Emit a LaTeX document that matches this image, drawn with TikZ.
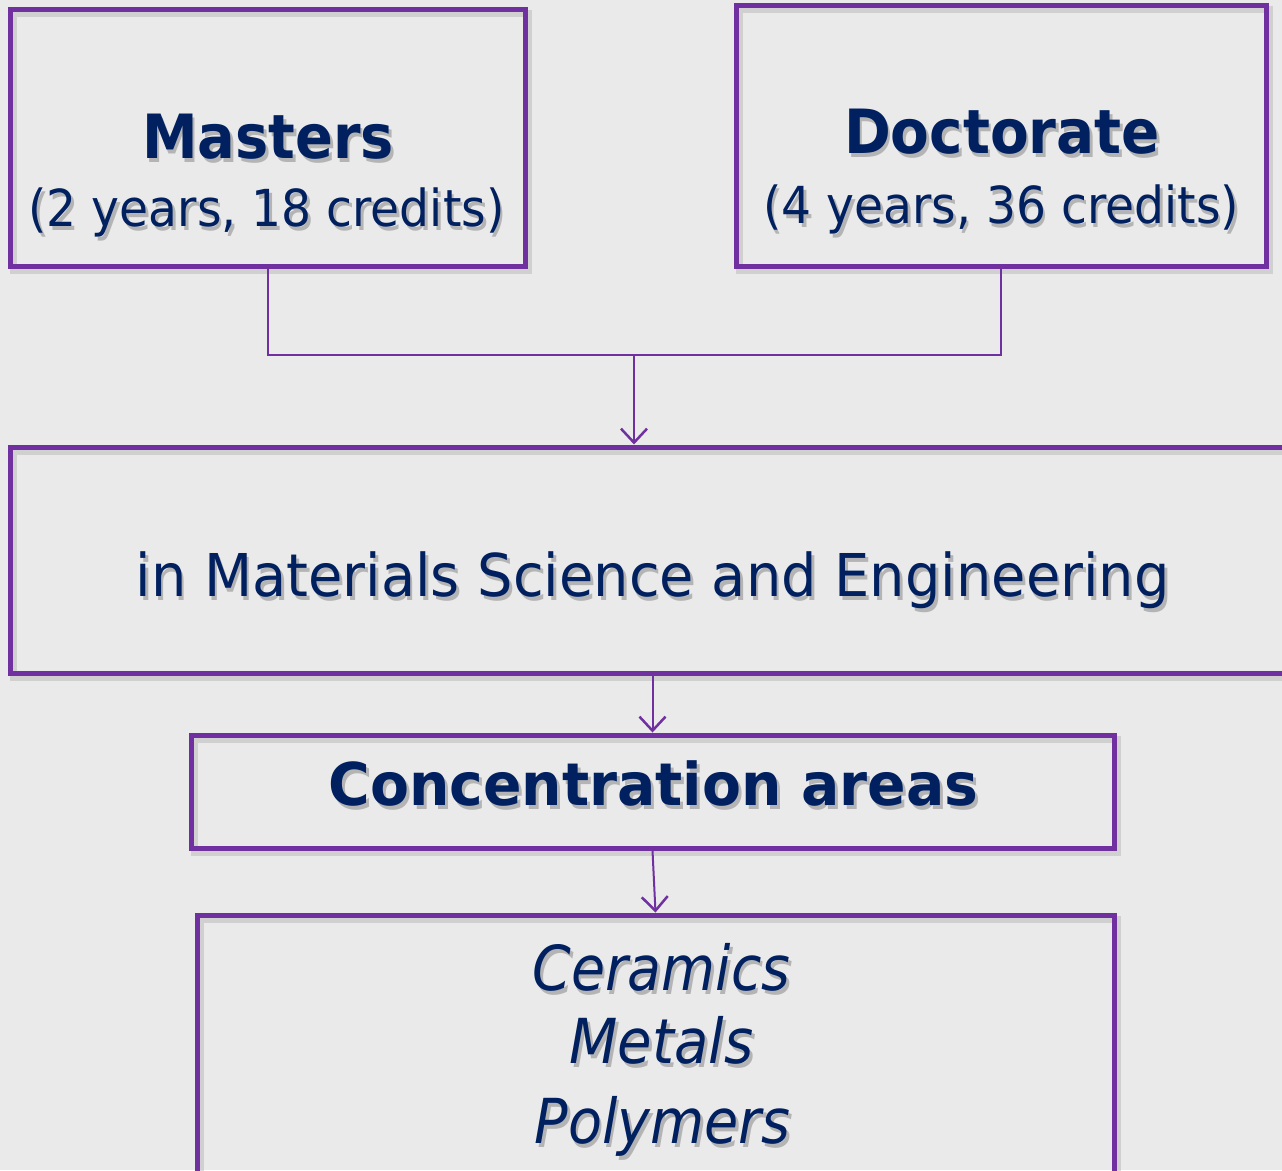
\documentclass[tikz,border=0pt]{standalone}
\usepackage{fontspec}
\setmainfont{DejaVu Sans}
\usetikzlibrary{arrows.meta,shadows}
\definecolor{bg}{HTML}{EAEAEA}
\definecolor{pur}{HTML}{7030A0}
\definecolor{navy}{HTML}{002060}
\definecolor{shc}{HTML}{B4B4B4}
\newcommand\shtxt[1]{\leavevmode\rlap{\hspace{3pt}\raisebox{-4pt}{\color{shc}#1}}#1}
\newsavebox\fitbox
\newlength\fitl
\newcommand\fitw[2]{\sbox\fitbox{#2}\setlength\fitl{\wd\fitbox}\pgfmathsetmacro\fitsx{#1/\fitl}\scalebox{\fitsx}[1]{\usebox\fitbox}}
\tikzset{
  box/.style={draw=pur, line width=5pt, inner sep=0pt,
    general shadow={draw=black!30, line width=7pt, opacity=0.45, shadow xshift=3pt, shadow yshift=-4pt}},
  txt/.style={anchor=base, inner sep=0pt, text=navy},
  conn/.style={draw=pur, line width=2pt},
  arr/.style={conn, -{Straight Barb[length=14pt,width=26pt,line width=2.5pt]}},
}
\begin{document}
\begin{tikzpicture}[x=1pt,y=-1pt]
\fill[bg] (0,0) rectangle (1282,1170);
\useasboundingbox (0,0) rectangle (1282,1170);
\clip (0,0) rectangle (1282,1170);
% boxes
\node[box, minimum width=515pt, minimum height=257pt] (m) at (267.5,137.5) {};
\node[box, minimum width=530pt, minimum height=261pt] (d) at (1001,135.5) {};
\node[box, minimum width=1290pt, minimum height=226pt] (mid) at (655,560) {};
\node[box, minimum width=923pt, minimum height=113pt] (c) at (652.5,791.5) {};
\node[box, minimum width=917pt, minimum height=275pt] (b) at (655.5,1052.5) {};
% texts
\node[txt] (mt) at (268,158) {\fitw{252}{\fontsize{61}{70}\selectfont\bfseries\shtxt{Masters}}};
\node[txt] (ms) at (266.5,226) {\fitw{476}{\fontsize{51}{60}\selectfont\shtxt{(2 years, 18 credits)}}};
\node[txt] (dt) at (1002,153) {\fitw{316}{\fontsize{61}{70}\selectfont\bfseries\shtxt{Doctorate}}};
\node[txt] (ds) at (1001,223) {\fitw{476}{\fontsize{51}{60}\selectfont\shtxt{(4 years, 36 credits)}}};
\node[txt] (mi) at (652.5,596) {\fitw{1034}{\fontsize{59}{70}\selectfont\shtxt{in Materials Science and Engineering}}};
\node[txt] (ct) at (653.5,805) {\fitw{650}{\fontsize{59}{70}\selectfont\bfseries\shtxt{Concentration areas}}};
\node[txt] (b1) at (661.5,990) {\fitw{258}{\fontsize{62}{70}\selectfont\itshape\shtxt{Ceramics}}};
\node[txt] (b2) at (661.5,1063) {\fitw{184}{\fontsize{62}{70}\selectfont\itshape\shtxt{Metals}}};
\node[txt] (b3) at (662.5,1143) {\fitw{256}{\fontsize{62}{70}\selectfont\itshape\shtxt{Polymers}}};
% connectors
\coordinate (j) at (634,355);
\draw[conn] (m.south) |- (j) -| (d.south);
\draw[arr] (j) -- (j |- mid.north);
\draw[arr] (c.north |- mid.south) -- (c.north);
\draw[arr] (c.south) -- (b.north);
\end{tikzpicture}
\end{document}
